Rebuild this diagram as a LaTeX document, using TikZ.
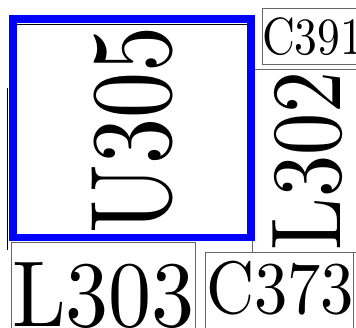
\documentclass[tikz,border=0pt]{standalone}
\usepackage{graphicx}
\begin{document}
\begin{tikzpicture}[x=1pt,y=-1pt,
  lbl/.style={inner sep=0pt,outer sep=0pt},
  grayedge/.style={draw=black!60,line width=0.9pt},
  blueedge/.style={draw=blue,line width=7.7pt},
  thinblack/.style={draw=black,line width=0.9pt}]
\useasboundingbox (0,0) rectangle (356,327);
\clip (0,0) rectangle (356,327);
% gray boxes
\draw[grayedge] (262,8.5) -- (262,64.5) -- (370,64.5);
\draw[grayedge] (370,8.5) -- (262,8.5);
\draw[grayedge] (370,69.5) -- (252,69.5) -- (252,252) -- (370,252);
\draw[grayedge] (11.7,340) -- (11.7,242.5) -- (195,242.5) -- (195,340);
\draw[grayedge] (205,340) -- (205,252.3) -- (353,252.3) -- (353,340);
% thin black lines
\draw[thinblack] (17,24) -- (247,24);
\draw[thinblack] (7.3,88) -- (7.3,250);
% blue outline
\draw[blueedge] (12.8,19) rectangle (251,237.5);
% labels
\node[lbl,rotate=90] (u305) at (133,130) {\resizebox*{207pt}{81pt}{U305}};
\node[lbl,rotate=90] (l302) at (307.5,161) {\resizebox*{179pt}{70pt}{L302}};
\node[lbl,anchor=north west] (c391) at (262,17.5) {\resizebox*{101pt}{38pt}{C391}};
\node[lbl,anchor=north west] (c373) at (206,261.5) {\resizebox*{148pt}{54pt}{C373}};
\node[lbl,anchor=north west] (l303) at (12,262.5) {\resizebox*{183pt}{66pt}{L303}};
\end{tikzpicture}
\end{document}
